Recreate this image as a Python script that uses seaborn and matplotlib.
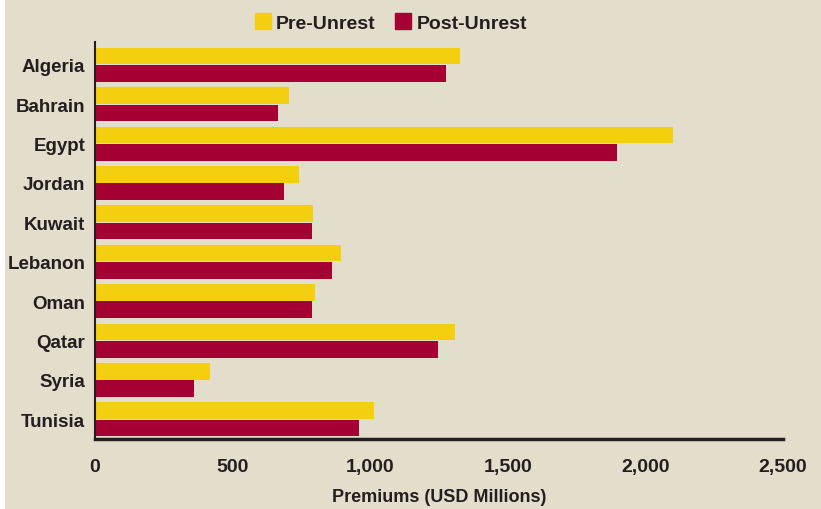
import matplotlib
matplotlib.use('Agg')
import matplotlib.pyplot as plt
from matplotlib.patches import Rectangle
from matplotlib.lines import Line2D
import seaborn as sns
import pandas as pd

# Premiums by country
countries = ['Algeria', 'Bahrain', 'Egypt', 'Jordan', 'Kuwait',
             'Lebanon', 'Oman', 'Qatar', 'Syria', 'Tunisia']
pre_unrest = [1326, 705, 2100, 741, 792, 894, 800, 1308, 418, 1014]
post_unrest = [1275, 665, 1897, 687, 789, 861, 789, 1246, 360, 959]
series = ['Pre-Unrest', 'Post-Unrest']
colors = ['#f4cf10', '#a50034']
bg = '#e3ddcb'
ink = '#231f20'

df = pd.DataFrame({
    'country': countries * 2,
    'value': pre_unrest + post_unrest,
    'period': [series[0]] * len(countries) + [series[1]] * len(countries),
})

sns.set_theme(style='white')
plt.rcParams['font.family'] = ['Liberation Sans', 'DejaVu Sans']

fig = plt.figure(figsize=(8.21, 5.10), dpi=100, facecolor=bg)
ax = fig.add_axes([95 / 821, 1 - 440 / 510, (783 - 95) / 821, (440 - 43) / 510])
ax.set_facecolor(bg)

sns.barplot(data=df, x='value', y='country', hue='period', hue_order=series,
            palette=colors, orient='h', width=0.88, gap=0.04,
            saturation=1, linewidth=0, ax=ax, legend=False)

ax.set_xlim(0, 2500)
ax.set_ylim(len(countries) - 0.5, -0.58)
ax.set_xticks([0, 500, 1000, 1500, 2000, 2500])
ax.set_xticklabels(['0', '500', '1,000', '1,500', '2,000', '2,500'])
ax.tick_params(axis='x', length=0, pad=14, labelsize=14, colors=ink)
ax.tick_params(axis='y', length=0, pad=7, labelsize=13.5, colors=ink)
for lbl in ax.get_xticklabels() + ax.get_yticklabels():
    lbl.set_fontweight('bold')
ax.set_ylabel('')
ax.set_xlabel('Premiums (USD Millions)', fontsize=13, fontweight='bold',
              color=ink, labelpad=9)

sns.despine(ax=ax)
ax.spines['left'].set_color(ink)
ax.spines['left'].set_linewidth(1.5)
ax.spines['bottom'].set_color(ink)
ax.spines['bottom'].set_linewidth(2.5)

handles = [Line2D([0], [0], marker='s', linestyle='', markersize=12,
                  markerfacecolor=c, markeredgecolor=c) for c in colors]
leg = fig.legend(handles, series, loc='center', bbox_to_anchor=(390 / 821, 1 - 24 / 510),
                 ncol=2, frameon=False, fontsize=14, handletextpad=0.2,
                 columnspacing=0.9, handlelength=1.0)
for t in leg.get_texts():
    t.set_fontweight('bold')
    t.set_color(ink)

# thin white strip on the left edge, as in the reference
fig.add_artist(Rectangle((0, 0), 5 / 821, 1, transform=fig.transFigure,
                         facecolor='white', edgecolor='none'))

fig.savefig('out.png', dpi=100, facecolor=bg)
